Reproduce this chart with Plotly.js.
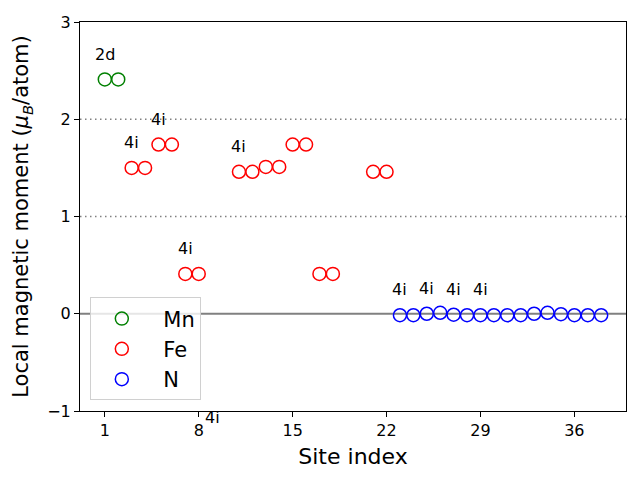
<!DOCTYPE html>
<html>
<head>
<meta charset="utf-8">
<script src="https://cdn.plot.ly/plotly-3.0.1.min.js"></script>
<style>html,body{margin:0;padding:0;background:#fff;}#chart{width:640px;height:480px;}</style>
</head>
<body>
<div id="chart"></div>
<script>
// ---- Data ----
var mnSites = [1, 2];
var mnMoments = [2.41, 2.41];

var feSites = [3, 4, 5, 6, 7, 8, 9, 10, 11, 12, 13, 14, 15, 16, 17, 18, 19, 20, 21, 22];
var feMoments = [1.50, 1.50, 1.74, 1.74, 0.41, 0.41, -1.33, -1.33, 1.46, 1.46,
                 1.51, 1.51, 1.74, 1.74, 0.41, 0.41, -1.33, -1.33, 1.46, 1.46];

var nSites = [23, 24, 25, 26, 27, 28, 29, 30, 31, 32, 33, 34, 35, 36, 37, 38];
var nMoments = [-0.015, -0.015, 0.0, 0.01, -0.01, -0.015, -0.015, -0.015,
                -0.015, -0.015, 0.0, 0.01, -0.005, -0.015, -0.015, -0.015];

var labelSites = [1, 3, 5, 7, 9, 11, 23, 25, 27, 29];
var labelTexts = ['2d', '4i', '4i', '4i', '4i', '4i', '4i', '4i', '4i', '4i'];

var xTicks = [1, 8, 15, 22, 29, 36];
var yTicks = [-1, 0, 1, 2, 3];
var yRange = [-1, 3];
var xRange = [-0.85, 39.85];
var refLevels = [0, 1, 2];

// ---- Build ----
var allSites = mnSites.concat(feSites, nSites);
var allMoments = mnMoments.concat(feMoments, nMoments);
function momentAt(s) { return allMoments[allSites.indexOf(s)]; }

var font = 'DejaVu Sans, sans-serif';
function series(name, xs, ys, color) {
  return {
    type: 'scatter', mode: 'markers', name: '\u2002' + name, x: xs, y: ys,
    marker: {symbol: 'circle-open', size: 13, color: color, line: {width: 1.5, color: color}},
    cliponaxis: true
  };
}
var traces = [
  series('Mn', mnSites, mnMoments, '#008000'),
  series('Fe', feSites, feMoments, '#ff0000'),
  series('N', nSites, nMoments, '#0000ff')
];

var shapes = refLevels.map(function (v) {
  return {
    type: 'line', xref: 'paper', x0: 0, x1: 1, yref: 'y', y0: v, y1: v, layer: 'below',
    line: v === 0 ? {color: '#808080', width: 1.8} : {color: '#808080', width: 1.5, dash: '1.5px,3.5px'}
  };
});

var labelOffset = 0.26;
var annotations = labelSites.map(function (s, i) {
  var yv = momentAt(s) + labelOffset;
  return {
    xref: 'x', x: s, yref: 'paper', y: (yv - yRange[0]) / (yRange[1] - yRange[0]),
    text: labelTexts[i], showarrow: false, xanchor: 'center', yanchor: 'middle',
    font: {family: font, size: 16, color: '#000'}
  };
});

var layout = {
  width: 640, height: 480,
  margin: {l: 80, r: 14, t: 22, b: 69, pad: 0},
  paper_bgcolor: '#fff', plot_bgcolor: '#fff',
  font: {family: font, size: 16, color: '#000'},
  showlegend: true,
  legend: {
    x: 0.018, y: 0.292, xanchor: 'left', yanchor: 'top',
    bgcolor: 'rgba(255,255,255,0.8)', bordercolor: '#d0d0d0', borderwidth: 1,
    font: {family: font, size: 21, color: '#000'}, itemwidth: 52, tracegroupgap: 0
  },
  xaxis: {
    range: xRange, tickvals: xTicks, ticktext: xTicks.map(String),
    showgrid: false, zeroline: false, showline: true, mirror: true,
    linecolor: '#000', linewidth: 1, ticks: 'outside', ticklen: 5, tickcolor: '#000',
    tickfont: {family: font, size: 16},
    title: {text: 'Site index', font: {family: font, size: 22}, standoff: 9}
  },
  yaxis: {
    range: yRange, tickvals: yTicks, ticktext: yTicks.map(function (v) { return v < 0 ? '\u2212' + Math.abs(v) : String(v); }),
    showgrid: false, zeroline: false, showline: true, mirror: true,
    linecolor: '#000', linewidth: 1, ticks: 'outside', ticklen: 5, tickcolor: '#000',
    tickfont: {family: font, size: 16},
    title: {text: 'Local magnetic moment (<i>\u03bc</i><sub><i>B</i></sub>/atom)', font: {family: font, size: 21}, standoff: 12}
  },
  shapes: shapes,
  annotations: annotations
};

Plotly.newPlot('chart', traces, layout, {staticPlot: true, displayModeBar: false});
</script>
</body>
</html>
